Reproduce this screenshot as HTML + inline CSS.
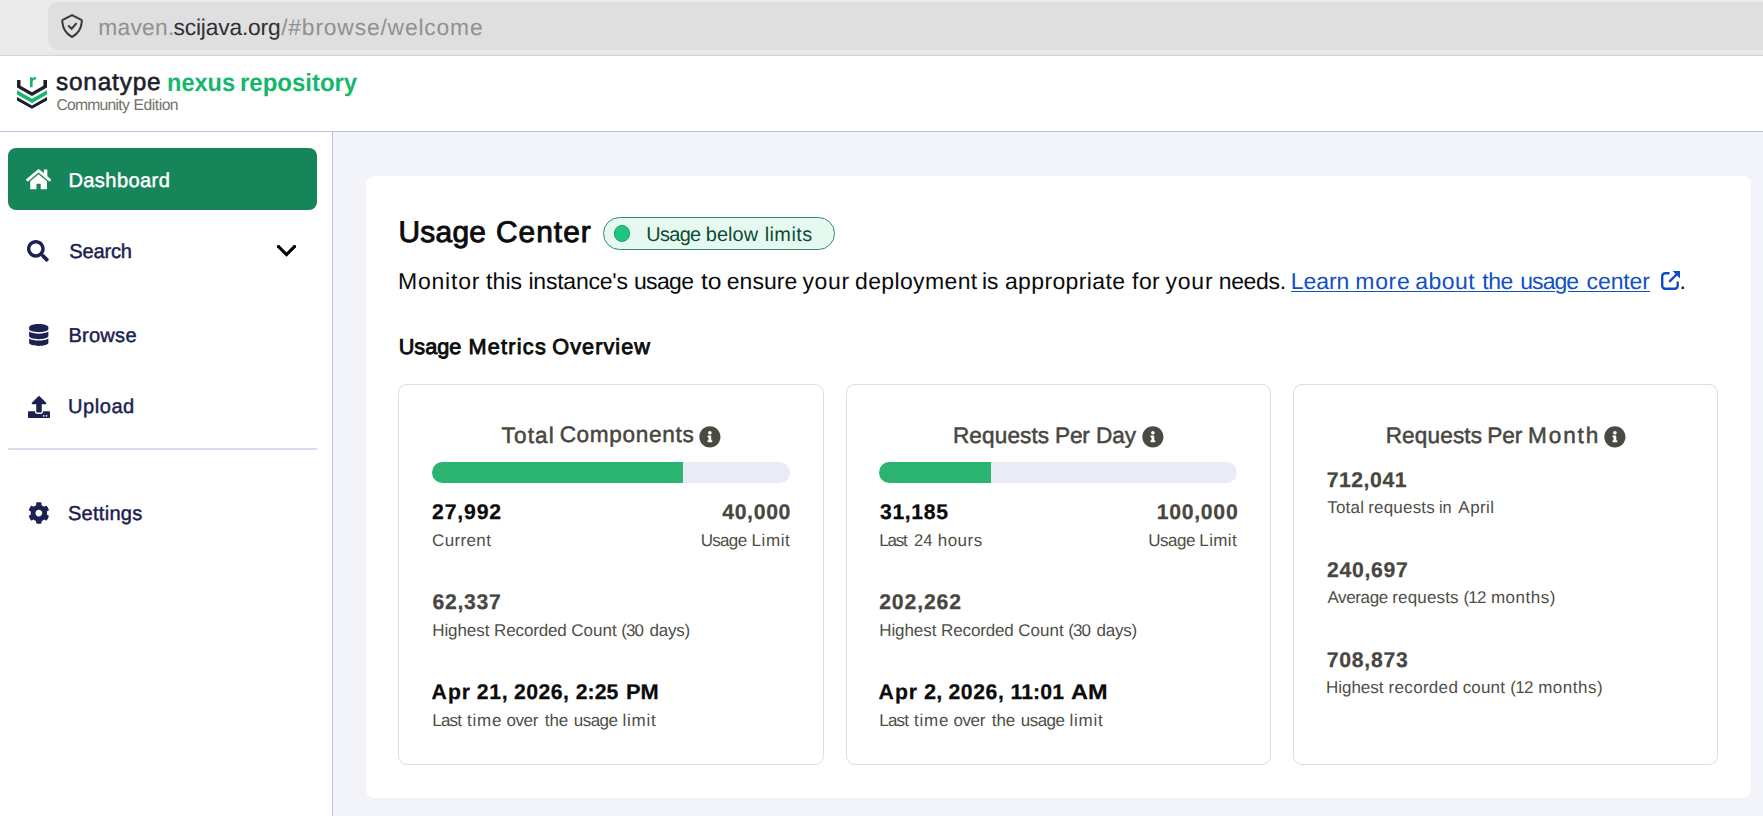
<!DOCTYPE html>
<html lang="en">
<head>
<meta charset="utf-8">
<title>Nexus Repository - Usage Center</title>
<style>
html,body{margin:0;padding:0;}
body{width:1763px;height:816px;overflow:hidden;position:relative;background:#fff;font-family:"Liberation Sans",sans-serif;}
.a{position:absolute;}
.t{position:absolute;white-space:nowrap;font-family:"Liberation Sans",sans-serif;text-rendering:geometricPrecision;}
svg{position:absolute;overflow:visible;}
/* browser chrome */
#chrome{left:0;top:0;width:1763px;height:55px;background:linear-gradient(#ebebeb 0,#ebebeb 50px,#e7e7e7 55px);}
#chromeline{left:0;top:55px;width:1763px;height:1px;background:#d4d4d4;}
#urlfield{left:48px;top:2px;width:1740px;height:48px;border-radius:10px;background:#dfdfdf;}
/* app header */
#hdr{left:0;top:56px;width:1763px;height:75px;background:#fff;}
#hdrline{left:0;top:131px;width:1763px;height:1px;background:#b9c2e4;}
/* sidebar */
#side{left:0;top:132px;width:332px;height:684px;background:#fff;}
#sideline{left:332px;top:132px;width:1px;height:684px;background:#b9c2e4;}
#dash{left:8px;top:148px;width:309px;height:62px;border-radius:8px;background:#17855a;}
#sdiv{left:8px;top:448px;width:309px;height:2px;background:#d5dbf0;}
/* main */
#main{left:333px;top:132px;width:1430px;height:684px;background:#f3f4fa;}
#panel{left:366px;top:176px;width:1385px;height:622px;border-radius:8px;background:#fff;}
.card{top:384px;height:379px;border:1px solid #d8ddf1;border-radius:9px;background:#fff;}
#c1{left:398px;width:424px;}
#c2{left:846px;width:423px;}
#c3{left:1293px;width:423px;}
.track{top:462px;width:358px;height:21px;border-radius:10.5px;background:#e9ecf7;overflow:hidden;}
.fill{left:0;top:0;height:21px;background:#2ab371;}
#pill{left:603px;top:217px;width:230px;height:31px;border:1px solid #2f8c63;border-radius:17px;background:#e6f9f1;}
#dot{left:613.9px;top:225.2px;width:14.4px;height:14.4px;border:1px solid #17a068;border-radius:50%;background:#1fc580;}
</style>
</head>
<body>
<div class="a" id="chrome"></div>
<div class="a" id="urlfield"></div>
<div class="a" id="chromeline"></div>
<div class="a" id="hdr"></div>
<div class="a" id="main"></div>
<div class="a" id="side"></div>
<div class="a" id="hdrline"></div>
<div class="a" id="sideline"></div>
<div class="a" id="dash"></div>
<div class="a" id="sdiv"></div>
<div class="a" id="panel"></div>
<div class="a card" id="c1"></div>
<div class="a card" id="c2"></div>
<div class="a card" id="c3"></div>
<div class="a track" style="left:432px"><div class="a fill" style="width:251px"></div></div>
<div class="a track" style="left:879px"><div class="a fill" style="width:112px"></div></div>
<div class="a" id="pill"></div>
<div class="a" id="dot"></div>

<!-- shield icon in URL bar -->
<svg style="left:60px;top:13px" width="24" height="26" viewBox="0 0 24 26">
  <path d="M12.050 2.100 L21.300 6.900 Q22 7.300 21.900 8.100 C21.400 15.500 18.500 20.500 12.050 24 C5.600 20.500 2.700 15.500 2.200 8.100 Q2.100 7.300 2.800 6.900 Z" fill="none" stroke="#3a3a3a" stroke-width="2" stroke-linejoin="round"/>
  <path d="M8.150 12.500 L11.600 15.700 L16.600 10.100" fill="none" stroke="#3a3a3a" stroke-width="2.100" stroke-linecap="butt" stroke-linejoin="miter"/>
</svg>

<!-- sonatype logo mark -->
<svg style="left:16px;top:76px" width="32" height="34" viewBox="0 0 32 34">
  <path d="M1.040 3.980 H4.490 V9.790 L15.970 16.330 L27.400 9.790 V3.980 H31 V11.440 L15.970 19.930 L1.040 11.440 Z" fill="#1c1f2b"/>
  <path d="M1.040 14.270 L15.970 22.760 L31 14.270 V18.390 L15.970 26.880 L1.040 18.390 Z" fill="#14b86c"/>
  <path d="M1.040 20.960 L15.970 29.450 L31 20.960 V24.560 L15.970 32.800 L1.040 24.560 Z" fill="#1c1f2b"/>
  <path d="M14 11.200 V1.200 H16.400 V2.600 C17.100 1.500 18.300 0.900 19.900 1 V3.600 C17.900 3.400 16.600 4.400 16.600 6.400 V11.200 Z" fill="#14b86c"/>
</svg>

<!-- sidebar icons (Font Awesome style) -->
<svg style="left:26px;top:167.700px" width="25.200" height="22.800" viewBox="0 0 576 512" preserveAspectRatio="none"><path fill="#fff" d="M280.370 148.260L96 300.110V464a16 16 0 0 0 16 16l112.060-.29a16 16 0 0 0 15.920-16V368a16 16 0 0 1 16-16h64a16 16 0 0 1 16 16v95.640a16 16 0 0 0 16 16.050L464 480a16 16 0 0 0 16-16V300L295.670 148.260a12.190 12.190 0 0 0-15.300 0zM571.600 251.470L488 182.560V44.050a12 12 0 0 0-12-12h-56a12 12 0 0 0-12 12v72.610L318.470 43a48 48 0 0 0-61 0L4.340 251.470a12 12 0 0 0-1.600 16.900l25.500 31A12 12 0 0 0 45.150 301l235.220-193.740a12.190 12.190 0 0 1 15.300 0L530.900 301a12 12 0 0 0 16.900-1.600l25.500-31a12 12 0 0 0-1.700-16.930z"/></svg>
<svg style="left:27.200px;top:240px" width="21.800" height="21.800" viewBox="0 0 512 512"><path fill="#1b2150" d="M505 442.700L405.300 343c-4.500-4.500-10.600-7-17-7H372c27.600-35.300 44-79.700 44-128C416 93.100 322.900 0 208 0S0 93.100 0 208s93.100 208 208 208c48.300 0 92.700-16.400 128-44v16.300c0 6.400 2.500 12.500 7 17l99.700 99.700c9.400 9.400 24.600 9.400 33.900 0l28.300-28.300c9.400-9.400 9.400-24.600.1-34zM208 336c-70.700 0-128-57.200-128-128 0-70.700 57.200-128 128-128 70.700 0 128 57.200 128 128 0 70.700-57.200 128-128 128z"/></svg>
<svg style="left:28.700px;top:324px" width="19.500" height="22" viewBox="0 0 448 512"><path fill="#1b2150" d="M448 73.143v45.714C448 159.143 347.667 192 224 192S0 159.143 0 118.857V73.143C0 32.857 100.333 0 224 0s224 32.857 224 73.143zM448 176v102.857C448 319.143 347.667 352 224 352S0 319.143 0 278.857V176c48.125 33.143 136.208 48.572 224 48.572S399.874 209.143 448 176zm0 160v102.857C448 479.143 347.667 512 224 512S0 479.143 0 438.857V336c48.125 33.143 136.208 48.572 224 48.572S399.874 369.143 448 336z"/></svg>
<svg style="left:27.600px;top:396px" width="22" height="22" viewBox="0 0 512 512"><path fill="#1b2150" d="M296 384h-80c-13.300 0-24-10.700-24-24V192h-87.700c-17.800 0-26.700-21.500-14.100-34.100L242.300 5.700c7.500-7.500 19.800-7.500 27.300 0l152.200 152.200c12.600 12.600 3.700 34.100-14.100 34.100H320v168c0 13.300-10.700 24-24 24zm216-8v112c0 13.300-10.700 24-24 24H24c-13.300 0-24-10.700-24-24V376c0-13.300 10.700-24 24-24h136v8c0 30.900 25.100 56 56 56h80c30.900 0 56-25.100 56-56v-8h136c13.300 0 24 10.700 24 24zm-124 88c0-11-9-20-20-20s-20 9-20 20 9 20 20 20 20-9 20-20zm64 0c0-11-9-20-20-20s-20 9-20 20 9 20 20 20 20-9 20-20z"/></svg>
<svg style="left:27.700px;top:501.750px" width="21.700" height="22.200" viewBox="0 0 512 512" preserveAspectRatio="none"><path fill="#1b2150" d="M487.400 315.700l-42.600-24.600c4.300-23.200 4.300-47 0-70.200l42.600-24.600c4.900-2.800 7.100-8.600 5.500-14-11.100-35.600-30-67.800-54.700-94.600-3.800-4.100-10-5.100-14.800-2.300L380.800 110c-17.900-15.400-38.500-27.300-60.800-35.100V25.800c0-5.600-3.900-10.500-9.400-11.700-36.700-8.200-74.300-7.800-109.200 0-5.500 1.200-9.400 6.100-9.400 11.700V75c-22.200 7.900-42.800 19.800-60.800 35.100L88.700 85.500c-4.900-2.800-11-1.900-14.800 2.300-24.700 26.700-43.600 58.900-54.700 94.600-1.700 5.400.6 11.200 5.500 14L67.300 221c-4.300 23.200-4.300 47 0 70.200l-42.600 24.600c-4.900 2.800-7.100 8.600-5.500 14 11.100 35.600 30 67.800 54.700 94.600 3.800 4.100 10 5.100 14.800 2.300l42.600-24.600c17.900 15.400 38.500 27.300 60.800 35.100v49.200c0 5.600 3.900 10.500 9.400 11.700 36.700 8.200 74.300 7.800 109.200 0 5.500-1.200 9.400-6.100 9.400-11.700v-49.200c22.200-7.900 42.800-19.800 60.800-35.100l42.600 24.600c4.900 2.800 11 1.900 14.800-2.300 24.700-26.700 43.600-58.900 54.700-94.600 1.500-5.500-.7-11.300-5.600-14.100zM256 336c-44.100 0-80-35.900-80-80s35.900-80 80-80 80 35.900 80 80-35.900 80-80 80z"/></svg>
<!-- chevron -->
<svg style="left:276px;top:244px" width="21" height="14" viewBox="0 0 21 14"><path d="M2.050 2.150 L10.500 10.600 L18.950 2.150" fill="none" stroke="#000" stroke-width="3.100" stroke-linecap="butt" stroke-linejoin="miter"/><circle cx="2.300" cy="2.400" r="1.350"/><circle cx="18.700" cy="2.400" r="1.350"/></svg>

<!-- link underline (with descender gap) -->
<div class="a" style="left:1291.200px;top:291px;width:263.800px;height:1px;background:#1250c4"></div>
<div class="a" style="left:1568px;top:291px;width:81.800px;height:1px;background:#1250c4"></div>
<!-- external link icon -->
<svg style="left:1660px;top:270px" width="21" height="21" viewBox="0 0 21 21">
  <path d="M8.600 3.300 H5.200 A3 3 0 0 0 2.200 6.300 V15.800 A3 3 0 0 0 5.200 18.800 H14.700 A3 3 0 0 0 17.700 15.800 V12.400" fill="none" stroke="#0d4bc4" stroke-width="2.400" stroke-linecap="round"/>
  <path d="M9.200 11.800 L17.500 3.500" fill="none" stroke="#0d4bc4" stroke-width="2.400" stroke-linecap="butt"/>
  <path d="M12.600 1 H20 V8.400 Z" fill="#0d4bc4"/>
</svg>

<!-- info icons -->
<svg style="left:699.05px;top:425.850px" width="21.800" height="21.800" viewBox="0 0 512 512"><path fill="#4a4a43" d="M256 8C119.043 8 8 119.083 8 256c0 136.997 111.043 248 248 248s248-111.003 248-248C504 119.083 392.957 8 256 8zm0 110c23.196 0 42 18.804 42 42s-18.804 42-42 42-42-18.804-42-42 18.804-42 42-42zm56 254c0 6.627-5.373 12-12 12h-88c-6.627 0-12-5.373-12-12v-24c0-6.627 5.373-12 12-12h12v-64h-12c-6.627 0-12-5.373-12-12v-24c0-6.627 5.373-12 12-12h64c6.627 0 12 5.373 12 12v100h12c6.627 0 12 5.373 12 12v24z"/></svg>
<svg style="left:1142.05px;top:425.850px" width="21.800" height="21.800" viewBox="0 0 512 512"><path fill="#4a4a43" d="M256 8C119.043 8 8 119.083 8 256c0 136.997 111.043 248 248 248s248-111.003 248-248C504 119.083 392.957 8 256 8zm0 110c23.196 0 42 18.804 42 42s-18.804 42-42 42-42-18.804-42-42 18.804-42 42-42zm56 254c0 6.627-5.373 12-12 12h-88c-6.627 0-12-5.373-12-12v-24c0-6.627 5.373-12 12-12h12v-64h-12c-6.627 0-12-5.373-12-12v-24c0-6.627 5.373-12 12-12h64c6.627 0 12 5.373 12 12v100h12c6.627 0 12 5.373 12 12v24z"/></svg>
<svg style="left:1603.95px;top:425.850px" width="21.800" height="21.800" viewBox="0 0 512 512"><path fill="#4a4a43" d="M256 8C119.043 8 8 119.083 8 256c0 136.997 111.043 248 248 248s248-111.003 248-248C504 119.083 392.957 8 256 8zm0 110c23.196 0 42 18.804 42 42s-18.804 42-42 42-42-18.804-42-42 18.804-42 42-42zm56 254c0 6.627-5.373 12-12 12h-88c-6.627 0-12-5.373-12-12v-24c0-6.627 5.373-12 12-12h12v-64h-12c-6.627 0-12-5.373-12-12v-24c0-6.627 5.373-12 12-12h64c6.627 0 12 5.373 12 12v100h12c6.627 0 12 5.373 12 12v24z"/></svg>

<span class="t" id="t0" style="font-size:22.8px;line-height:22.8px;top:16.00px;left:98.31px;color:#909090;letter-spacing:0.237px;">maven.</span>
<span class="t" id="t1" style="font-size:22.8px;line-height:22.8px;top:16.00px;left:173.49px;color:#303034;letter-spacing:-0.176px;">scijava.org</span>
<span class="t" id="t2" style="font-size:22.8px;line-height:22.8px;top:16.00px;left:281.17px;color:#909090;letter-spacing:0.844px;">/#browse/welcome</span>
<span class="t" id="t3" style="font-size:24.4px;line-height:24.4px;top:71.00px;left:55.97px;color:#1c1f2b;-webkit-text-stroke:0.6px #1c1f2b;letter-spacing:0.812px;">sonatype</span>
<span class="t" id="t4" style="font-size:25.0px;line-height:25.0px;top:71.00px;left:167.15px;color:#14b86c;font-weight:700;transform:scaleX(0.9418);transform-origin:0 0;">nexus</span>
<span class="t" id="t5" style="font-size:25.0px;line-height:25.0px;top:71.00px;left:240.40px;color:#14b86c;font-weight:700;transform:scaleX(0.9586);transform-origin:0 0;">repository</span>
<span class="t" id="t6" style="font-size:15.7px;line-height:15.7px;top:98.00px;left:56.43px;color:#727268;letter-spacing:-0.747px;">Community</span>
<span class="t" id="t7" style="font-size:15.7px;line-height:15.7px;top:98.00px;left:133.58px;color:#727268;letter-spacing:-0.494px;">Edition</span>
<span class="t" id="t8" style="font-size:20.1px;line-height:20.1px;top:171.00px;left:68.40px;color:#ffffff;-webkit-text-stroke:0.45px #ffffff;letter-spacing:0.396px;">Dashboard</span>
<span class="t" id="t9" style="font-size:20.1px;line-height:20.1px;top:242.00px;left:69.34px;color:#1b2150;-webkit-text-stroke:0.45px #1b2150;letter-spacing:-0.195px;">Search</span>
<span class="t" id="t10" style="font-size:20.1px;line-height:20.1px;top:326.00px;left:68.39px;color:#1b2150;-webkit-text-stroke:0.45px #1b2150;letter-spacing:0.235px;">Browse</span>
<span class="t" id="t11" style="font-size:20.1px;line-height:20.1px;top:397.00px;left:68.00px;color:#1b2150;-webkit-text-stroke:0.45px #1b2150;letter-spacing:0.514px;">Upload</span>
<span class="t" id="t12" style="font-size:20.1px;line-height:20.1px;top:504.00px;left:67.90px;color:#1b2150;-webkit-text-stroke:0.45px #1b2150;letter-spacing:0.264px;">Settings</span>
<span class="t" id="t13" style="font-size:29.9px;line-height:29.9px;top:218.00px;left:398.47px;color:#0b0b0b;-webkit-text-stroke:0.9px #0b0b0b;letter-spacing:0.274px;">Usage</span>
<span class="t" id="t14" style="font-size:29.9px;line-height:29.9px;top:218.00px;left:495.97px;color:#0b0b0b;-webkit-text-stroke:0.9px #0b0b0b;letter-spacing:1.007px;">Center</span>
<span class="t" id="t15" style="font-size:19.9px;line-height:19.9px;top:226.00px;left:646.31px;color:#0e4a34;letter-spacing:-0.673px;">Usage</span>
<span class="t" id="t16" style="font-size:19.9px;line-height:19.9px;top:226.00px;left:705.76px;color:#0e4a34;letter-spacing:0.073px;">below</span>
<span class="t" id="t17" style="font-size:19.9px;line-height:19.9px;top:226.00px;left:764.66px;color:#0e4a34;letter-spacing:0.438px;">limits</span>
<span class="t" id="t18" style="font-size:23.0px;line-height:23.0px;top:270.00px;left:397.96px;color:#0b0b0b;letter-spacing:0.790px;">Monitor</span>
<span class="t" id="t19" style="font-size:23.0px;line-height:23.0px;top:270.00px;left:486.07px;color:#0b0b0b;letter-spacing:0.081px;">this</span>
<span class="t" id="t20" style="font-size:23.0px;line-height:23.0px;top:270.00px;left:528.47px;color:#0b0b0b;letter-spacing:-0.223px;">instance&#x27;s</span>
<span class="t" id="t21" style="font-size:23.0px;line-height:23.0px;top:270.00px;left:633.95px;color:#0b0b0b;letter-spacing:-0.663px;">usage</span>
<span class="t" id="t22" style="font-size:23.0px;line-height:23.0px;top:270.00px;left:700.70px;color:#0b0b0b;transform:scaleX(1.0724);transform-origin:0 0;">to</span>
<span class="t" id="t23" style="font-size:23.0px;line-height:23.0px;top:270.00px;left:726.81px;color:#0b0b0b;letter-spacing:0.032px;">ensure</span>
<span class="t" id="t24" style="font-size:23.0px;line-height:23.0px;top:270.00px;left:802.40px;color:#0b0b0b;letter-spacing:0.711px;">your</span>
<span class="t" id="t25" style="font-size:23.0px;line-height:23.0px;top:270.00px;left:854.98px;color:#0b0b0b;letter-spacing:0.376px;">deployment</span>
<span class="t" id="t26" style="font-size:23.0px;line-height:23.0px;top:270.00px;left:982.42px;color:#0b0b0b;transform:scaleX(0.9899);transform-origin:0 0;">is</span>
<span class="t" id="t27" style="font-size:23.0px;line-height:23.0px;top:270.00px;left:1004.89px;color:#0b0b0b;letter-spacing:0.383px;">appropriate</span>
<span class="t" id="t28" style="font-size:23.0px;line-height:23.0px;top:270.00px;left:1132.09px;color:#0b0b0b;letter-spacing:0.429px;">for</span>
<span class="t" id="t29" style="font-size:23.0px;line-height:23.0px;top:270.00px;left:1165.40px;color:#0b0b0b;letter-spacing:0.831px;">your</span>
<span class="t" id="t30" style="font-size:23.0px;line-height:23.0px;top:270.00px;left:1218.69px;color:#0b0b0b;letter-spacing:-0.325px;">needs.</span>
<span class="t" id="t31" style="font-size:23.0px;line-height:23.0px;top:270.00px;left:1290.87px;color:#1250c4;letter-spacing:-0.085px;">Learn</span>
<span class="t" id="t32" style="font-size:23.0px;line-height:23.0px;top:270.00px;left:1355.30px;color:#1250c4;letter-spacing:0.672px;">more</span>
<span class="t" id="t33" style="font-size:23.0px;line-height:23.0px;top:270.00px;left:1415.33px;color:#1250c4;letter-spacing:0.450px;">about</span>
<span class="t" id="t34" style="font-size:23.0px;line-height:23.0px;top:270.00px;left:1482.25px;color:#1250c4;letter-spacing:-0.473px;">the</span>
<span class="t" id="t35" style="font-size:23.0px;line-height:23.0px;top:270.00px;left:1520.26px;color:#1250c4;letter-spacing:-0.951px;">usage</span>
<span class="t" id="t36" style="font-size:23.0px;line-height:23.0px;top:270.00px;left:1586.60px;color:#1250c4;letter-spacing:-0.122px;">center</span>
<span class="t" id="t37" style="font-size:23.0px;line-height:23.0px;top:270.00px;left:1679.62px;color:#0b0b0b;">.</span>
<span class="t" id="t38" style="font-size:21.7px;line-height:21.7px;top:336.00px;left:398.65px;color:#0b0b0b;-webkit-text-stroke:0.85px #0b0b0b;letter-spacing:0.026px;">Usage</span>
<span class="t" id="t39" style="font-size:21.7px;line-height:21.7px;top:336.00px;left:468.48px;color:#0b0b0b;-webkit-text-stroke:0.85px #0b0b0b;letter-spacing:1.235px;">Metrics</span>
<span class="t" id="t40" style="font-size:21.7px;line-height:21.7px;top:336.00px;left:552.33px;color:#0b0b0b;-webkit-text-stroke:0.85px #0b0b0b;letter-spacing:1.026px;">Overview</span>
<span class="t" id="t41" style="font-size:17.0px;line-height:17.0px;top:622.00px;left:432.24px;color:#4e4e47;letter-spacing:-0.084px;">Highest</span>
<span class="t" id="t42" style="font-size:17.0px;line-height:17.0px;top:622.00px;left:494.07px;color:#4e4e47;letter-spacing:-0.137px;">Recorded</span>
<span class="t" id="t43" style="font-size:17.0px;line-height:17.0px;top:622.00px;left:571.22px;color:#4e4e47;letter-spacing:0.058px;">Count</span>
<span class="t" id="t44" style="font-size:17.0px;line-height:17.0px;top:622.00px;left:621.24px;color:#4e4e47;letter-spacing:-0.969px;">(30</span>
<span class="t" id="t45" style="font-size:17.0px;line-height:17.0px;top:622.00px;left:649.59px;color:#4e4e47;letter-spacing:-0.245px;">days)</span>
<span class="t" id="t46" style="font-size:17.0px;line-height:17.0px;top:712.00px;left:432.24px;color:#4e4e47;letter-spacing:-0.780px;">Last</span>
<span class="t" id="t47" style="font-size:17.0px;line-height:17.0px;top:712.00px;left:467.11px;color:#4e4e47;letter-spacing:0.756px;">time</span>
<span class="t" id="t48" style="font-size:17.0px;line-height:17.0px;top:712.00px;left:506.52px;color:#4e4e47;letter-spacing:-0.429px;">over</span>
<span class="t" id="t49" style="font-size:17.0px;line-height:17.0px;top:712.00px;left:544.87px;color:#4e4e47;letter-spacing:-0.114px;">the</span>
<span class="t" id="t50" style="font-size:17.0px;line-height:17.0px;top:712.00px;left:573.76px;color:#4e4e47;letter-spacing:-0.516px;">usage</span>
<span class="t" id="t51" style="font-size:17.0px;line-height:17.0px;top:712.00px;left:622.60px;color:#4e4e47;letter-spacing:0.715px;">limit</span>
<span class="t" id="t52" style="font-size:17.0px;line-height:17.0px;top:622.00px;left:879.24px;color:#4e4e47;letter-spacing:-0.084px;">Highest</span>
<span class="t" id="t53" style="font-size:17.0px;line-height:17.0px;top:622.00px;left:941.07px;color:#4e4e47;letter-spacing:-0.137px;">Recorded</span>
<span class="t" id="t54" style="font-size:17.0px;line-height:17.0px;top:622.00px;left:1018.22px;color:#4e4e47;letter-spacing:0.058px;">Count</span>
<span class="t" id="t55" style="font-size:17.0px;line-height:17.0px;top:622.00px;left:1068.24px;color:#4e4e47;letter-spacing:-0.969px;">(30</span>
<span class="t" id="t56" style="font-size:17.0px;line-height:17.0px;top:622.00px;left:1096.59px;color:#4e4e47;letter-spacing:-0.245px;">days)</span>
<span class="t" id="t57" style="font-size:17.0px;line-height:17.0px;top:712.00px;left:879.24px;color:#4e4e47;letter-spacing:-0.780px;">Last</span>
<span class="t" id="t58" style="font-size:17.0px;line-height:17.0px;top:712.00px;left:914.11px;color:#4e4e47;letter-spacing:0.756px;">time</span>
<span class="t" id="t59" style="font-size:17.0px;line-height:17.0px;top:712.00px;left:953.52px;color:#4e4e47;letter-spacing:-0.429px;">over</span>
<span class="t" id="t60" style="font-size:17.0px;line-height:17.0px;top:712.00px;left:991.87px;color:#4e4e47;letter-spacing:-0.114px;">the</span>
<span class="t" id="t61" style="font-size:17.0px;line-height:17.0px;top:712.00px;left:1020.76px;color:#4e4e47;letter-spacing:-0.523px;">usage</span>
<span class="t" id="t62" style="font-size:17.0px;line-height:17.0px;top:712.00px;left:1069.60px;color:#4e4e47;letter-spacing:0.715px;">limit</span>
<span class="t" id="t63" style="font-size:22.6px;line-height:22.6px;top:425.00px;left:501.46px;color:#47473f;-webkit-text-stroke:0.5px #47473f;letter-spacing:1.169px;">Total</span>
<span class="t" id="t64" style="font-size:22.6px;line-height:22.6px;top:424.00px;left:559.63px;color:#47473f;-webkit-text-stroke:0.5px #47473f;letter-spacing:0.678px;">Components</span>
<span class="t" id="t65" style="font-size:21.2px;line-height:21.2px;top:502.00px;left:432.00px;color:#0b0b0b;font-weight:700;-webkit-text-stroke:0.25px #0b0b0b;letter-spacing:0.849px;">27,992</span>
<span class="t" id="t66" style="font-size:21.2px;line-height:21.2px;top:502.00px;left:722.16px;color:#47473f;font-weight:700;-webkit-text-stroke:0.25px #47473f;letter-spacing:0.686px;">40,000</span>
<span class="t" id="t67" style="font-size:17.0px;line-height:17.0px;top:532.00px;left:432.10px;color:#4e4e47;letter-spacing:0.352px;">Current</span>
<span class="t" id="t68" style="font-size:17.0px;line-height:17.0px;top:532.00px;left:700.64px;color:#4e4e47;letter-spacing:-0.666px;">Usage</span>
<span class="t" id="t69" style="font-size:17.0px;line-height:17.0px;top:532.00px;left:751.54px;color:#4e4e47;letter-spacing:0.572px;">Limit</span>
<span class="t" id="t70" style="font-size:21.2px;line-height:21.2px;top:592.00px;left:432.42px;color:#47473f;font-weight:700;-webkit-text-stroke:0.25px #47473f;letter-spacing:0.712px;">62,337</span>
<span class="t" id="t71" style="font-size:21.2px;line-height:21.2px;top:682.00px;left:431.62px;color:#0b0b0b;font-weight:700;-webkit-text-stroke:0.25px #0b0b0b;letter-spacing:0.971px;">Apr</span>
<span class="t" id="t72" style="font-size:21.2px;line-height:21.2px;top:682.00px;left:476.86px;color:#0b0b0b;font-weight:700;-webkit-text-stroke:0.25px #0b0b0b;letter-spacing:0.618px;">21,</span>
<span class="t" id="t73" style="font-size:21.2px;line-height:21.2px;top:682.00px;left:514.10px;color:#0b0b0b;font-weight:700;-webkit-text-stroke:0.25px #0b0b0b;letter-spacing:0.429px;">2026,</span>
<span class="t" id="t74" style="font-size:21.2px;line-height:21.2px;top:682.00px;left:575.63px;color:#0b0b0b;font-weight:700;-webkit-text-stroke:0.25px #0b0b0b;letter-spacing:0.120px;">2:25</span>
<span class="t" id="t75" style="font-size:21.2px;line-height:21.2px;top:682.00px;left:625.51px;color:#0b0b0b;font-weight:700;-webkit-text-stroke:0.25px #0b0b0b;transform:scaleX(1.0326);transform-origin:0 0;">PM</span>
<span class="t" id="t76" style="font-size:22.6px;line-height:22.6px;top:425.00px;left:952.95px;color:#47473f;-webkit-text-stroke:0.5px #47473f;letter-spacing:0.108px;">Requests</span>
<span class="t" id="t77" style="font-size:22.6px;line-height:22.6px;top:425.00px;left:1055.06px;color:#47473f;-webkit-text-stroke:0.5px #47473f;letter-spacing:-0.235px;">Per</span>
<span class="t" id="t78" style="font-size:22.6px;line-height:22.6px;top:425.00px;left:1095.95px;color:#47473f;-webkit-text-stroke:0.5px #47473f;letter-spacing:-0.071px;">Day</span>
<span class="t" id="t79" style="font-size:21.2px;line-height:21.2px;top:502.00px;left:880.05px;color:#0b0b0b;font-weight:700;-webkit-text-stroke:0.25px #0b0b0b;letter-spacing:0.617px;">31,185</span>
<span class="t" id="t80" style="font-size:21.2px;line-height:21.2px;top:502.00px;left:1156.64px;color:#47473f;font-weight:700;-webkit-text-stroke:0.25px #47473f;letter-spacing:0.745px;">100,000</span>
<span class="t" id="t81" style="font-size:17.0px;line-height:17.0px;top:532.00px;left:879.24px;color:#4e4e47;letter-spacing:-1.226px;">Last</span>
<span class="t" id="t82" style="font-size:17.0px;line-height:17.0px;top:532.00px;left:913.92px;color:#4e4e47;transform:scaleX(0.9740);transform-origin:0 0;">24</span>
<span class="t" id="t83" style="font-size:17.0px;line-height:17.0px;top:532.00px;left:937.66px;color:#4e4e47;letter-spacing:0.516px;">hours</span>
<span class="t" id="t84" style="font-size:17.0px;line-height:17.0px;top:532.00px;left:1148.19px;color:#4e4e47;letter-spacing:-0.454px;">Usage</span>
<span class="t" id="t85" style="font-size:17.0px;line-height:17.0px;top:532.00px;left:1199.33px;color:#4e4e47;letter-spacing:0.375px;">Limit</span>
<span class="t" id="t86" style="font-size:21.2px;line-height:21.2px;top:592.00px;left:879.15px;color:#47473f;font-weight:700;-webkit-text-stroke:0.25px #47473f;letter-spacing:0.889px;">202,262</span>
<span class="t" id="t87" style="font-size:21.2px;line-height:21.2px;top:682.00px;left:878.62px;color:#0b0b0b;font-weight:700;-webkit-text-stroke:0.25px #0b0b0b;letter-spacing:0.971px;">Apr</span>
<span class="t" id="t88" style="font-size:21.2px;line-height:21.2px;top:682.00px;left:923.72px;color:#0b0b0b;font-weight:700;-webkit-text-stroke:0.25px #0b0b0b;transform:scaleX(1.0292);transform-origin:0 0;">2,</span>
<span class="t" id="t89" style="font-size:21.2px;line-height:21.2px;top:682.00px;left:948.43px;color:#0b0b0b;font-weight:700;-webkit-text-stroke:0.25px #0b0b0b;letter-spacing:0.610px;">2026,</span>
<span class="t" id="t90" style="font-size:21.2px;line-height:21.2px;top:682.00px;left:1010.45px;color:#0b0b0b;font-weight:700;-webkit-text-stroke:0.25px #0b0b0b;letter-spacing:0.125px;">11:01</span>
<span class="t" id="t91" style="font-size:21.2px;line-height:21.2px;top:682.00px;left:1070.51px;color:#0b0b0b;font-weight:700;-webkit-text-stroke:0.25px #0b0b0b;transform:scaleX(1.1082);transform-origin:0 0;">AM</span>
<span class="t" id="t92" style="font-size:22.6px;line-height:22.6px;top:425.00px;left:1385.66px;color:#47473f;-webkit-text-stroke:0.5px #47473f;letter-spacing:0.129px;">Requests</span>
<span class="t" id="t93" style="font-size:22.6px;line-height:22.6px;top:425.00px;left:1487.25px;color:#47473f;-webkit-text-stroke:0.5px #47473f;letter-spacing:-0.080px;">Per</span>
<span class="t" id="t94" style="font-size:22.6px;line-height:22.6px;top:425.00px;left:1528.04px;color:#47473f;-webkit-text-stroke:0.5px #47473f;letter-spacing:1.861px;">Month</span>
<span class="t" id="t95" style="font-size:21.2px;line-height:21.2px;top:470.00px;left:1326.63px;color:#47473f;font-weight:700;-webkit-text-stroke:0.25px #47473f;letter-spacing:0.548px;">712,041</span>
<span class="t" id="t96" style="font-size:17.0px;line-height:17.0px;top:499.00px;left:1327.17px;color:#4e4e47;letter-spacing:0.227px;">Total</span>
<span class="t" id="t97" style="font-size:17.0px;line-height:17.0px;top:499.00px;left:1368.15px;color:#4e4e47;letter-spacing:0.205px;">requests</span>
<span class="t" id="t98" style="font-size:17.0px;line-height:17.0px;top:499.00px;left:1439.18px;color:#4e4e47;transform:scaleX(0.9585);transform-origin:0 0;">in</span>
<span class="t" id="t99" style="font-size:17.0px;line-height:17.0px;top:499.00px;left:1458.36px;color:#4e4e47;letter-spacing:0.437px;">April</span>
<span class="t" id="t100" style="font-size:21.2px;line-height:21.2px;top:560.00px;left:1327.10px;color:#47473f;font-weight:700;-webkit-text-stroke:0.25px #47473f;letter-spacing:0.697px;">240,697</span>
<span class="t" id="t101" style="font-size:17.0px;line-height:17.0px;top:589.00px;left:1327.43px;color:#4e4e47;letter-spacing:-0.373px;">Average</span>
<span class="t" id="t102" style="font-size:17.0px;line-height:17.0px;top:589.00px;left:1392.17px;color:#4e4e47;letter-spacing:0.179px;">requests</span>
<span class="t" id="t103" style="font-size:17.0px;line-height:17.0px;top:589.00px;left:1463.39px;color:#4e4e47;letter-spacing:-0.782px;">(12</span>
<span class="t" id="t104" style="font-size:17.0px;line-height:17.0px;top:589.00px;left:1490.89px;color:#4e4e47;letter-spacing:0.514px;">months)</span>
<span class="t" id="t105" style="font-size:21.2px;line-height:21.2px;top:650.00px;left:1326.63px;color:#47473f;font-weight:700;-webkit-text-stroke:0.25px #47473f;letter-spacing:0.781px;">708,873</span>
<span class="t" id="t106" style="font-size:17.0px;line-height:17.0px;top:679.00px;left:1326.07px;color:#4e4e47;letter-spacing:-0.049px;">Highest</span>
<span class="t" id="t107" style="font-size:17.0px;line-height:17.0px;top:679.00px;left:1388.62px;color:#4e4e47;letter-spacing:0.304px;">recorded</span>
<span class="t" id="t108" style="font-size:17.0px;line-height:17.0px;top:679.00px;left:1462.68px;color:#4e4e47;letter-spacing:0.158px;">count</span>
<span class="t" id="t109" style="font-size:17.0px;line-height:17.0px;top:679.00px;left:1510.14px;color:#4e4e47;letter-spacing:-0.649px;">(12</span>
<span class="t" id="t110" style="font-size:17.0px;line-height:17.0px;top:679.00px;left:1538.17px;color:#4e4e47;letter-spacing:0.524px;">months)</span>
</body>
</html>
